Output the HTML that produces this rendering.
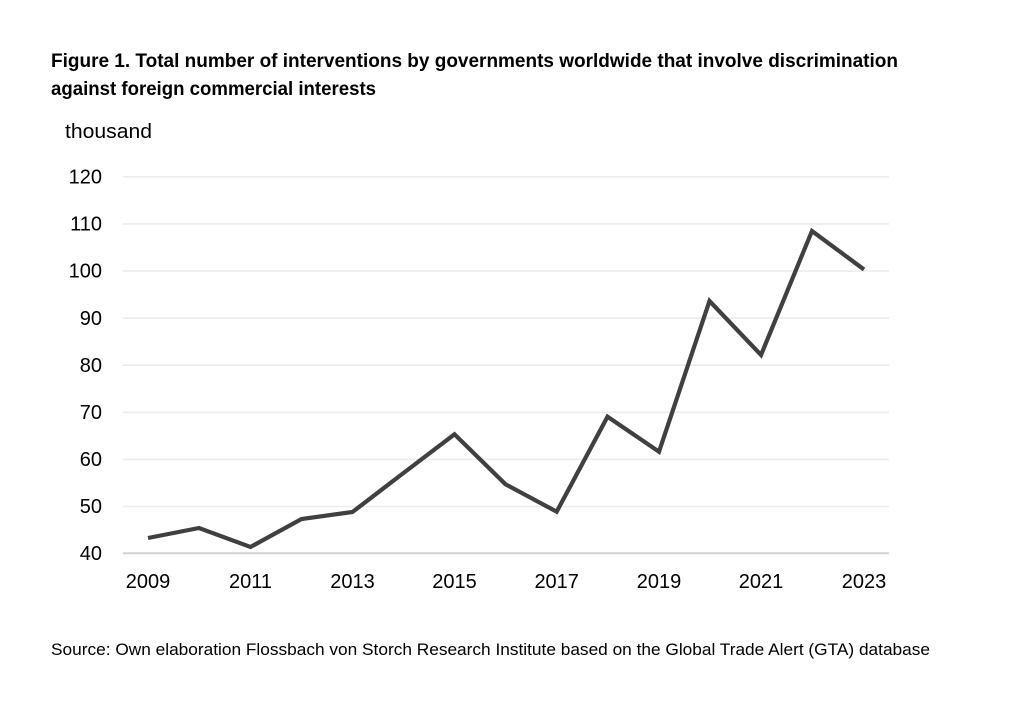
<!DOCTYPE html>
<html>
<head>
<meta charset="utf-8">
<style>
  html, body { margin: 0; padding: 0; background: #ffffff; }
  body { width: 1012px; height: 717px; overflow: hidden; }
  svg { display: block; }
  .t { font-family: "Liberation Sans", Arial, sans-serif; fill: #000; }
</style>
</head>
<body>
<svg width="1012" height="717" viewBox="0 0 1012 717" xmlns="http://www.w3.org/2000/svg">
  <rect width="1012" height="717" fill="#ffffff"/>

  <!-- Title -->
  <text class="t" x="51" y="67" font-size="19.5" font-weight="bold" textLength="847" lengthAdjust="spacingAndGlyphs">Figure 1. Total number of interventions by governments worldwide that involve discrimination</text>
  <text class="t" x="51" y="95" font-size="19.5" font-weight="bold" textLength="325" lengthAdjust="spacingAndGlyphs">against foreign commercial interests</text>

  <!-- Unit -->
  <text class="t" x="65" y="138" font-size="20" textLength="87" lengthAdjust="spacingAndGlyphs">thousand</text>

  <!-- Gridlines -->
  <g stroke="#ececec" stroke-width="1.6">
    <line x1="123" y1="176.8" x2="889" y2="176.8"/>
    <line x1="123" y1="223.9" x2="889" y2="223.9"/>
    <line x1="123" y1="271" x2="889" y2="271"/>
    <line x1="123" y1="318.1" x2="889" y2="318.1"/>
    <line x1="123" y1="365.2" x2="889" y2="365.2"/>
    <line x1="123" y1="412.3" x2="889" y2="412.3"/>
    <line x1="123" y1="459.4" x2="889" y2="459.4"/>
    <line x1="123" y1="506.5" x2="889" y2="506.5"/>
  </g>
  <line x1="123" y1="553.3" x2="889" y2="553.3" stroke="#d4d4d4" stroke-width="2"/>

  <!-- Y labels -->
  <g class="t" font-size="20" text-anchor="end">
    <text x="102" y="183.5">120</text>
    <text x="102" y="230.6">110</text>
    <text x="102" y="277.7">100</text>
    <text x="102" y="324.8">90</text>
    <text x="102" y="371.9">80</text>
    <text x="102" y="419">70</text>
    <text x="102" y="466.1">60</text>
    <text x="102" y="513.2">50</text>
    <text x="102" y="560">40</text>
  </g>

  <!-- X labels -->
  <g class="t" font-size="20" text-anchor="middle">
    <text x="148" y="588">2009</text>
    <text x="250.5" y="588">2011</text>
    <text x="352.5" y="588">2013</text>
    <text x="454.5" y="588">2015</text>
    <text x="556.7" y="588">2017</text>
    <text x="659" y="588">2019</text>
    <text x="761" y="588">2021</text>
    <text x="864" y="588">2023</text>
  </g>

  <!-- Series -->
  <polyline fill="none" stroke="#404040" stroke-width="4.2" stroke-linejoin="miter" stroke-linecap="butt"
    points="148,538 199,528 250.5,547 301.5,519 352.5,512 403.5,473 454.5,434.3 505.5,484.3 556.7,511.7 607.5,416.7 659,451.7 709.5,301 761,355 812,231 864,269.5"/>

  <!-- Source -->
  <text class="t" x="51" y="655" font-size="17" textLength="879" lengthAdjust="spacingAndGlyphs">Source: Own elaboration Flossbach von Storch Research Institute based on the Global Trade Alert (GTA) database</text>
</svg>
</body>
</html>
